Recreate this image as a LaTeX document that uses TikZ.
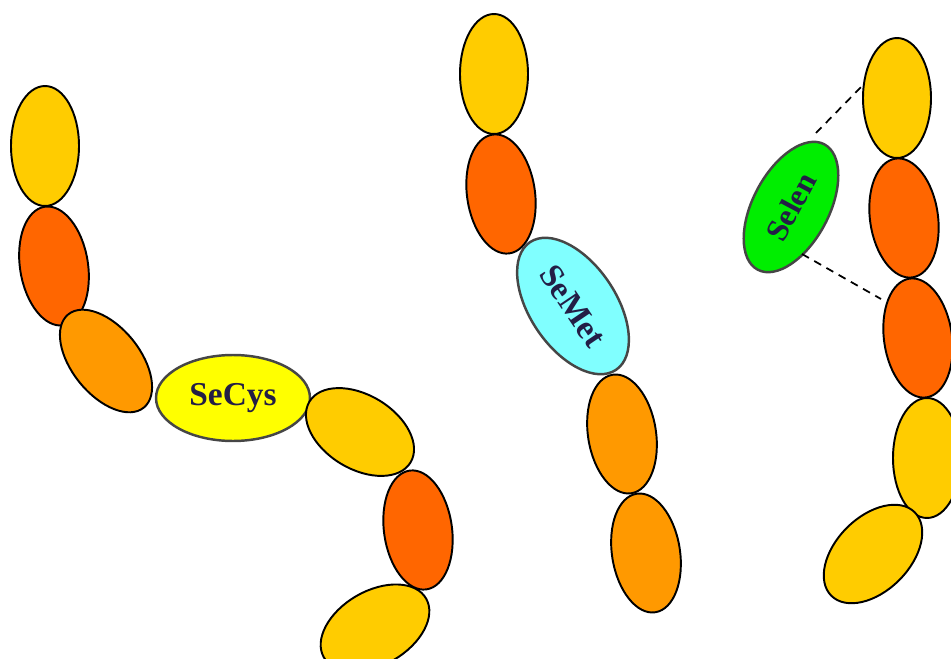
\documentclass[tikz,border=0pt]{standalone}
\usepackage{fontspec}
\setmainfont{Liberation Serif}
\usetikzlibrary{shapes.geometric}
\definecolor{gold}{RGB}{255,204,0}
\definecolor{redorange}{RGB}{255,102,0}
\definecolor{amber}{RGB}{255,153,0}
\definecolor{secys}{RGB}{255,255,0}
\definecolor{semet}{RGB}{128,255,255}
\definecolor{selen}{RGB}{0,238,0}
\definecolor{labtext}{RGB}{35,30,70}
\definecolor{labline}{RGB}{70,70,70}
\tikzset{
  bead/.style={ellipse, draw=black, line width=1.1pt, inner sep=0pt,
    minimum width=1.36cm, minimum height=2.4cm},
  widebead/.style={bead, minimum width=1.48cm, minimum height=2.36cm},
  label/.style={ellipse, draw=labline, line width=1.4pt, inner sep=0pt,
    text=labtext, font=\bfseries\fontsize{19}{20}\selectfont},
  callout/.style={draw=black, line width=1pt, dash pattern=on 4.5pt off 3.5pt}
}
\begin{document}
\begin{tikzpicture}[x=0.02cm,y=-0.02cm]
\useasboundingbox (0,0) rectangle (951,659);
\clip (0,0) rectangle (951,659);
% left chain
\node[bead, fill=gold] (l1) at (45,146) {};
\node[bead, fill=redorange, rotate=9] (l2) at (54,266) {};
\node[bead, fill=amber, rotate=39] (l3) at (106,361) {};
\node[label, fill=secys, minimum width=3.08cm, minimum height=1.72cm] (sc) at (233,398) {SeCys};
\node[widebead, fill=gold, rotate=59] (l5) at (360,432) {};
\node[bead, fill=redorange, rotate=8] (l6) at (418,530) {};
\node[widebead, fill=gold, rotate=-60] (l7) at (375,628) {};
% middle chain
\node[bead, fill=gold] (m1) at (494,74) {};
\node[bead, fill=redorange, rotate=8] (m2) at (501,194) {};
\node[label, fill=semet, minimum width=3.08cm, minimum height=1.72cm, rotate=-56] (sm) at (573,306) {SeMet};
\node[bead, fill=amber, rotate=9] (m4) at (622,434) {};
\node[bead, fill=amber, rotate=9] (m5) at (646,553) {};
% right chain
\node[bead, fill=gold] (r1) at (897,98) {};
\node[bead, fill=redorange, rotate=8] (r2) at (904,218) {};
\node[bead, fill=redorange, rotate=8] (r3) at (918,338) {};
\node[bead, fill=gold] (r4) at (927,458) {};
\node[widebead, fill=gold, rotate=-45] (r5) at (873,554) {};
% selenium
\node[label, fill=selen, minimum width=2.84cm, minimum height=1.52cm, rotate=62,
  font=\bfseries\fontsize{18}{19}\selectfont] (se) at (791,207) {Selen};
\coordinate (sea) at (816,133);
\coordinate (r1a) at (861,87);
\coordinate (seb) at (802,254);
\coordinate (r3a) at (881,299);
\draw[callout] (sea) -- (r1a);
\draw[callout] (seb) -- (r3a);
\end{tikzpicture}
\end{document}
